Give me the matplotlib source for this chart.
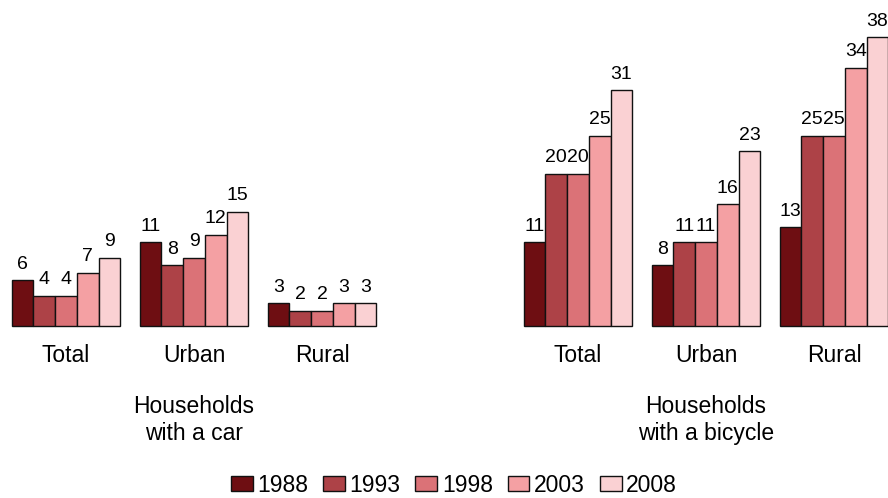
import numpy as np
import matplotlib.pyplot as plt

# data
years = ["1988", "1993", "1998", "2003", "2008"]
groups = ["Total", "Urban", "Rural"]
car = [[6, 11, 3], [4, 8, 2], [4, 9, 2], [7, 12, 3], [9, 15, 3]]
bicycle = [[11, 8, 13], [20, 11, 25], [20, 11, 25], [25, 16, 34], [31, 23, 38]]
colors = ["#6e0e12", "#ad4247", "#db7277", "#f4a0a3", "#fad1d3"]

W, H = 888, 498
fig = plt.figure(figsize=(W / 100, H / 100), dpi=100)
plt.rcParams['font.family'] = ['Liberation Sans', 'DejaVu Sans']

base = (H - 326) / H
top = 326 / 7.6
bw = 0.17
x = np.arange(len(groups))


def panel(left_px, right_px, center0_px, vals, title):
    ax = fig.add_axes([left_px / W, base, (right_px - left_px) / W, 1 - base])
    ax.set_xlim((left_px - center0_px) / 128, (right_px - center0_px) / 128)
    ax.set_ylim(0, top)
    for i, yr in enumerate(years):
        pos = x + (i - 2) * bw
        bars = ax.bar(pos, vals[i], bw, color=colors[i], edgecolor="#111111",
                      linewidth=1, label=yr, clip_on=False)
        for b, v in zip(bars, vals[i]):
            ax.text(b.get_x() + bw / 2, v + 1.0, str(v), ha="center",
                    va="bottom", fontsize=14, clip_on=False)
    for s in ax.spines.values():
        s.set_visible(False)
    ax.set_yticks([])
    ax.set_xticks(x)
    ax.set_xticklabels(groups, fontsize=16.5)
    ax.tick_params(axis="x", length=0, pad=13)
    ax.text(1, -9.1, title, ha="center", va="top", fontsize=16.5,
            linespacing=1.2)
    return ax


ax1 = panel(0, 444, 66, car, "Households\nwith a car")
ax2 = panel(444, 888, 578, bicycle, "Households\nwith a bicycle")

handles, labels = ax1.get_legend_handles_labels()
fig.legend(handles, labels, loc="center",
           bbox_to_anchor=(454 / W, (H - 485) / H),
           ncol=5, frameon=False, fontsize=16.5, handlelength=0.95,
           handleheight=0.65, handletextpad=0.2, columnspacing=0.65,
           borderaxespad=0)

fig.savefig("out.png", dpi=100)
